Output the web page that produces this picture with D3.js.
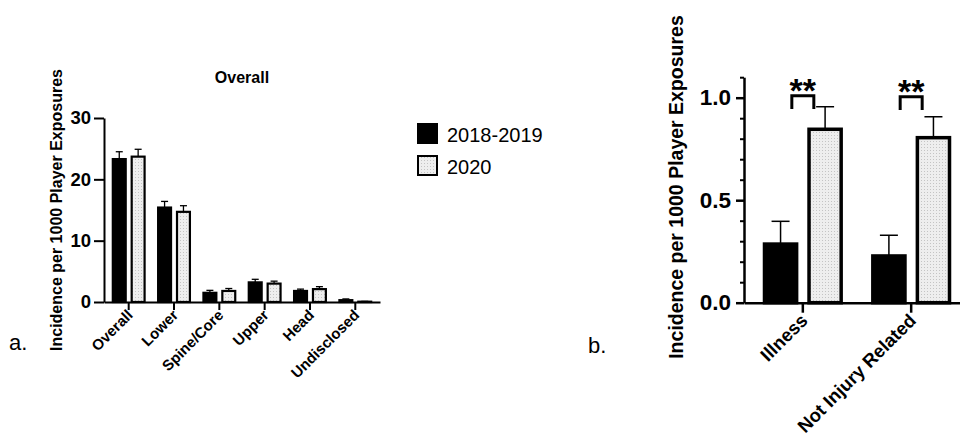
<!DOCTYPE html>
<meta charset="utf-8">
<style>
body { margin: 0; background: #fff; }
svg { font-family: "Liberation Sans", Arial, sans-serif; }
.axis text { font-weight: bold; fill: #000; font-family: "Liberation Sans", Arial, sans-serif; }
</style>
<svg width="960" height="445"></svg>
<script src="https://d3js.org/d3.v7.min.js"></script>
<script>

// panel a
var categoriesA = ["Overall", "Lower", "Spine/Core", "Upper", "Head", "Undisclosed"];
var seriesNames = ["2018-2019", "2020"];
var valuesA2018 = [23.3, 15.4, 1.5, 3.2, 1.8, 0.3];
var errA2018 = [1.2, 1.0, 0.4, 0.5, 0.3, 0.2];
var valuesA2020 = [23.7, 14.7, 1.8, 3.0, 2.1, 0.05];
var errA2020 = [1.2, 1.0, 0.4, 0.4, 0.4, 0.05];
var ticksA = [0, 10, 20, 30];

// panel b
var categoriesB = ["Illness", "Not Injury Related"];
var valuesB2018 = [0.286, 0.228];
var errB2018 = [0.111, 0.101];
var valuesB2020 = [0.846, 0.805];
var errB2020 = [0.11, 0.102];
var ticksB = [0, 0.5, 1.0];
var minorTicksB = [0.1, 0.2, 0.3, 0.4, 0.6, 0.7, 0.8, 0.9, 1.1];
var sigLabels = ["**", "**"];
var sigTop = [1.01, 1.005];
var sigBottom = [0.945, 0.94];

var yTitle = "Incidence per 1000 Player Exposures";

var svg = d3.select("svg");

var defs = svg.append("defs");
var pat = defs.append("pattern")
  .attr("id", "dots")
  .attr("width", 3).attr("height", 3)
  .attr("patternUnits", "userSpaceOnUse");
pat.append("rect").attr("width", 3).attr("height", 3).attr("fill", "#eeeeee");
pat.append("rect").attr("width", 1).attr("height", 1).attr("fill", "#c4c4c4");

var fills = ["#000", "url(#dots)"];

function drawPanel(opt) {
  var g = svg.append("g");
  var x = d3.scaleBand().domain(opt.categories).range(opt.xRange)
    .paddingInner(opt.padIn).paddingOuter(opt.padOut);
  var xs = d3.scaleBand().domain(seriesNames).range([0, x.bandwidth()]).paddingInner(opt.subPad);
  var y = d3.scaleLinear().domain(opt.yDomain).range(opt.yRange);

  var rows = [];
  opt.categories.forEach(function(c, i) {
    rows.push({cat: c, s: 0, v: opt.v0[i], e: opt.e0[i]});
    rows.push({cat: c, s: 1, v: opt.v1[i], e: opt.e1[i]});
  });

  function cx(d) { return x(d.cat) + xs(seriesNames[d.s]) + xs.bandwidth() / 2; }

  // error bars (upper only)
  var eb = g.selectAll(".err").data(rows).enter().append("g").attr("class", "err");
  eb.append("line")
    .attr("x1", cx).attr("x2", cx)
    .attr("y1", function(d) { return y(d.v); })
    .attr("y2", function(d) { return y(d.v + d.e); })
    .attr("stroke", "#000").attr("stroke-width", opt.errW);
  eb.append("line")
    .attr("x1", function(d) { return cx(d) - opt.cap; })
    .attr("x2", function(d) { return cx(d) + opt.cap; })
    .attr("y1", function(d) { return y(d.v + d.e); })
    .attr("y2", function(d) { return y(d.v + d.e); })
    .attr("stroke", "#000").attr("stroke-width", opt.errW);

  // bars
  g.selectAll(".bar").data(rows).enter().append("rect")
    .attr("class", "bar")
    .attr("x", function(d) { return x(d.cat) + xs(seriesNames[d.s]) + opt.barW / 2; })
    .attr("width", xs.bandwidth() - opt.barW)
    .attr("y", function(d) { return y(d.v); })
    .attr("height", function(d) { return Math.max(0, y(0) - y(d.v)); })
    .attr("fill", function(d) { return fills[d.s]; })
    .attr("stroke", "#000")
    .attr("stroke-width", opt.barW);

  // y axis
  var ya = g.append("g").attr("class", "axis")
    .attr("transform", "translate(" + opt.xRange[0] + ",0)")
    .call(d3.axisLeft(y).tickValues(opt.ticks).tickSize(opt.tick).tickSizeOuter(0)
      .tickPadding(opt.pad).tickFormat(opt.fmt));
  ya.selectAll("text").style("font-size", opt.tickFont + "px");
  ya.selectAll("path, line").attr("stroke-width", opt.axisW);
  if (opt.minor) {
    var ym = g.append("g").attr("class", "axis")
      .attr("transform", "translate(" + opt.xRange[0] + ",0)")
      .call(d3.axisLeft(y).tickValues(opt.minor).tickSize(opt.tick / 2).tickFormat(""));
    ym.select(".domain").remove();
    ym.selectAll("line").attr("stroke-width", opt.axisW * 0.8);
  }

  // x axis
  var xa = g.append("g").attr("class", "axis")
    .attr("transform", "translate(0," + y(0) + ")")
    .call(d3.axisBottom(x).tickSize(opt.xtick).tickSizeOuter(0).tickPadding(0));
  xa.selectAll("path, line").attr("stroke-width", opt.axisW);
  xa.selectAll("text")
    .style("font-size", opt.xFont + "px")
    .attr("text-anchor", "end")
    .attr("dy", null)
    .attr("y", 0)
    .attr("transform", "translate(" + opt.lblDx + "," + opt.lblDy + ") rotate(-45)");

  // y title
  g.append("text")
    .attr("transform", "translate(" + opt.titleX + "," + opt.titleY + ") rotate(-90)")
    .attr("text-anchor", "middle")
    .style("font-weight", "bold")
    .style("font-size", opt.titleFont + "px")
    .text(yTitle);

  // panel letter
  g.append("text")
    .attr("x", opt.letterX).attr("y", opt.letterY)
    .style("font-size", opt.letterFont + "px")
    .text(opt.letter);

  return {g: g, x: x, xs: xs, y: y};
}

var pa = drawPanel({
  categories: categoriesA, v0: valuesA2018, e0: errA2018, v1: valuesA2020, e1: errA2020,
  xRange: [104, 380], padIn: 0.25, padOut: 0.17, subPad: 0.2,
  yDomain: [0, 30], yRange: [302, 118], ticks: ticksA, fmt: d3.format("d"),
  tick: 10, pad: 3, tickFont: 18.5, axisW: 2, xtick: 8,
  barW: 2.2, errW: 1.3, cap: 3.5,
  xFont: 15, lblDx: 5, lblDy: 14,
  titleX: 62, titleY: 210, titleFont: 16,
  letter: "a.", letterX: 9, letterY: 350, letterFont: 22
});

pa.g.append("text")
  .attr("x", 242).attr("y", 83)
  .attr("text-anchor", "middle")
  .style("font-weight", "bold").style("font-size", "16px")
  .text("Overall");

// legend
var leg = svg.append("g").attr("transform", "translate(418,124)");
seriesNames.forEach(function(s, i) {
  leg.append("rect")
    .attr("x", 0).attr("y", i * 32)
    .attr("width", 19).attr("height", 19)
    .attr("fill", fills[i]).attr("stroke", "#000").attr("stroke-width", 2);
  leg.append("text")
    .attr("x", 29).attr("y", i * 32 + 18)
    .style("font-size", "20px")
    .text(s);
});

var pb = drawPanel({
  categories: categoriesB, v0: valuesB2018, e0: errB2018, v1: valuesB2020, e1: errB2020,
  xRange: [744, 970], padIn: 0.26, padOut: 0.173, subPad: 0.2,
  yDomain: [0, 1.1], yRange: [302.7, 77.2], ticks: ticksB, fmt: d3.format(".1f"),
  minor: minorTicksB,
  tick: 8, pad: 5, tickFont: 22.5, axisW: 2.5, xtick: 10,
  barW: 3.5, errW: 1.5, cap: 9,
  xFont: 18.5, lblDx: 6, lblDy: 19,
  titleX: 683, titleY: 187, titleFont: 19.5,
  letter: "b.", letterX: 588, letterY: 353, letterFont: 22
});

// significance brackets
categoriesB.forEach(function(c, i) {
  var cx = pb.x(c) + pb.x.bandwidth() / 2;
  var yt = pb.y(sigTop[i]), yb = pb.y(sigBottom[i]);
  pb.g.append("path")
    .attr("d", "M" + (cx - 11) + "," + yb + "V" + yt + "H" + (cx + 11) + "V" + yb)
    .attr("fill", "none").attr("stroke", "#000").attr("stroke-width", 3);
  pb.g.append("text")
    .attr("x", cx).attr("y", yt + 6)
    .attr("text-anchor", "middle")
    .style("font-weight", "bold").style("font-size", "34px")
    .text(sigLabels[i]);
});

</script>
